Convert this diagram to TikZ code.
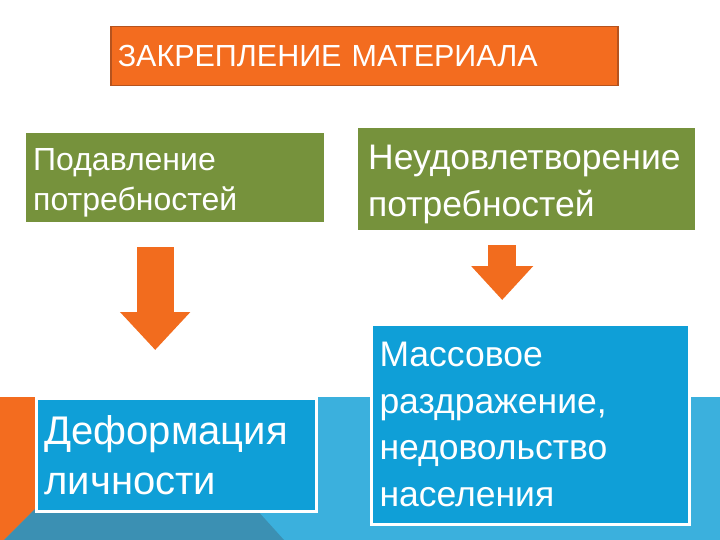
\documentclass[tikz,border=0pt]{standalone}
\usepackage{fontspec}
\setmainfont{Liberation Sans}
\usepackage{xcolor}
\usetikzlibrary{arrows.meta,positioning}

\definecolor{titleorange}{HTML}{F36C1F}
\definecolor{titleedge}{HTML}{B5531E}
\definecolor{olivegreen}{HTML}{76923C}
\definecolor{boxblue}{HTML}{0F9FD7}
\definecolor{bandblue}{HTML}{3BB0DD}
\definecolor{bandteal}{HTML}{3B90B3}
\definecolor{arroworange}{HTML}{F26C1E}

\begin{document}
\begin{tikzpicture}[x=1pt, y=-1pt, align=left, text=white]

    \tikzstyle{every node}=[anchor=north west, inner ysep=0pt]
    \tikzstyle{titlebox}=[fill=titleorange, draw=titleedge, line width=1.5pt, inner xsep=7pt]
    \tikzstyle{greenbox}=[fill=olivegreen]
    \tikzstyle{bluebox}=[fill=boxblue, draw=white, line width=3pt, inner xsep=8pt]
    \tikzstyle{blockarrow}=[draw=arroworange, -{Triangle[length=38pt, width=68pt]}]

    \useasboundingbox (0,0) rectangle (720,540);

    % background band, bottom left corner
    \fill[bandblue] (0,397) rectangle (720,540);
    \fill[titleorange] (0,397) -- (35,397) -- (35,509) -- (4,540) -- (0,540) -- cycle;
    \fill[bandteal] (35,509) -- (256,509) -- (284,540) -- (4,540) -- cycle;

    \node[titlebox, text width=493pt, minimum height=59pt, font=\fontsize{30.5}{36}\selectfont]
          (title) at (110,26) {ЗАКРЕПЛЕНИЕ МАТЕРИАЛА};

    \node[greenbox, inner xsep=7pt, text width=284pt, minimum height=89pt, font=\fontsize{32}{40}\selectfont]
          (g1) at (26,133) {\rule{0pt}{33pt}Подавление\\потребностей};
    \node[greenbox, inner xsep=10pt, text width=317pt, minimum height=102pt, font=\fontsize{35.5}{47}\selectfont]
          (g2) at (358,128) {\rule{0pt}{35pt}Неудовлетворение\\потребностей};

    \node[bluebox, text width=264pt, minimum height=113pt, font=\fontsize{40}{50}\selectfont]
          (b1) at (35,397) {Деформация\\личности};
    \node[bluebox, text width=302pt, minimum height=200pt, font=\fontsize{35.5}{46.5}\selectfont]
          (b2) at (370,323) {Массовое\\раздражение,\\недовольство\\населения};

    \draw[blockarrow, line width=37pt, shorten <=25pt, shorten >=47pt]
          ([xshift=-20pt]g1.south) -- ([xshift=-20pt]g1.south |- b1.north);
    \draw[blockarrow, line width=28pt, shorten <=15pt, shorten >=23pt,
          -{Triangle[length=34pt, width=60pt]}]
          ([xshift=-24.5pt]g2.south) -- ([xshift=-24.5pt]g2.south |- b2.north);
\end{tikzpicture}
\end{document}
